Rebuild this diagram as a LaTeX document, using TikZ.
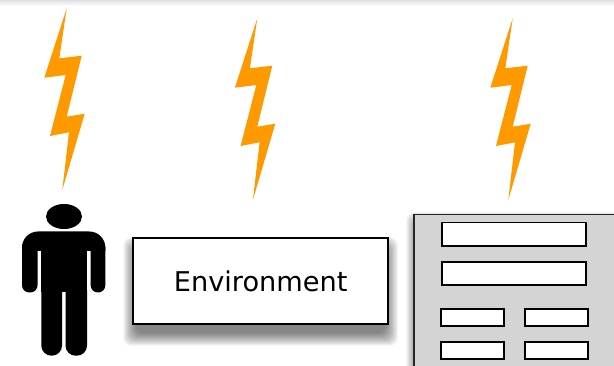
\documentclass[tikz,border=0pt]{standalone}
\usepackage{fontspec}
\setmainfont{DejaVu Sans}
\definecolor{boltorange}{HTML}{FF9900}
\definecolor{panelgray}{HTML}{D4D4D4}
\tikzset{
    boltshape/.style={fill=boltorange},
    fieldbox/.style={draw=black, fill=white, line width=1.2pt, inner sep=0pt, minimum height=#1},
    envbox/.style={draw=black, fill=white, line width=1.4pt, minimum width=191pt, minimum height=65pt, font=\fontsize{20.4}{24}\selectfont},
}
\begin{document}
\begin{tikzpicture}[x=0.75pt, y=-0.75pt]
        \useasboundingbox (0,0) rectangle (614,366);
        \clip (0,0) rectangle (614,366);

        % --- TOP EDGE ---
        \shade[top color=black!12, bottom color=white] (0,0) rectangle (614,6);

        % --- BOLTS ---
        \foreach \dx/\dy in {0/0, 190.6/10, 446/10} {
            \fill[boltshape, shift={(\dx*0.75pt,-\dy*0.75pt)}] (66.7,8.3) -- (59.3,58.3) -- (81.7,55.7) -- (66.7,116.7) -- (84.7,113.7) -- (62.3,190) -- (69,132.3) -- (50,136) -- (65.7,75) -- (44.3,77.7) -- cycle;
        }

        % --- PERSON ---
        \fill (64,216.5) ellipse (18 and 12.5);
        \fill (22,251) [rounded corners=12] -- (22,231.5) -- (105.3,231.5) [sharp corners] -- (105.3,251) -- cycle;
        \fill (41.3,240) rectangle (87,292);
        \foreach \xa/\xb in {22/37.5, 90.7/105.3} {
            \fill[rounded corners=5.4] (\xa,240) -- (\xa,292.5) -- (\xb,292.5) -- (\xb,240) -- cycle;
        }
        \foreach \xa/\xb in {41.3/62, 65.5/87} {
            \fill[rounded corners=7.6] (\xa,280) -- (\xa,355.7) -- (\xb,355.7) -- (\xb,280) -- cycle;
        }

        % --- ENVIRONMENT ---
        \foreach \d in {13,12.5,...,0} {
            \fill[black, opacity=0.024, rounded corners=6] (136-\d,250-\d) rectangle (385+\d,333+\d);
        }
        \node[envbox] (environment) at (260.7,281) {Environment};

        % --- PANEL ---
        \foreach \d in {10,9.5,...,0} {
            \fill[black, opacity=0.024, rounded corners=6] (416-\d,222-\d) rectangle (640,400);
        }
        \fill[panelgray] (414,214.3) rectangle (620,372);
        \draw[line width=1pt, black!85] (414,372) -- (414,214.3) -- (620,214.3);
        \node[fieldbox=17.3pt, minimum width=108.2pt] (fieldA) at (513.9,234.2) {};
        \node[fieldbox=17.3pt, minimum width=108.2pt] (fieldB) at (513.9,273.3) {};
        \foreach \name/\x/\y in {fieldC/472.5/317.3, fieldD/556.5/317.3, fieldE/472.5/350.7, fieldF/556.5/350.7} {
            \node[fieldbox=12.7pt, minimum width=47pt] (\name) at (\x,\y) {};
        }
\end{tikzpicture}
\end{document}
